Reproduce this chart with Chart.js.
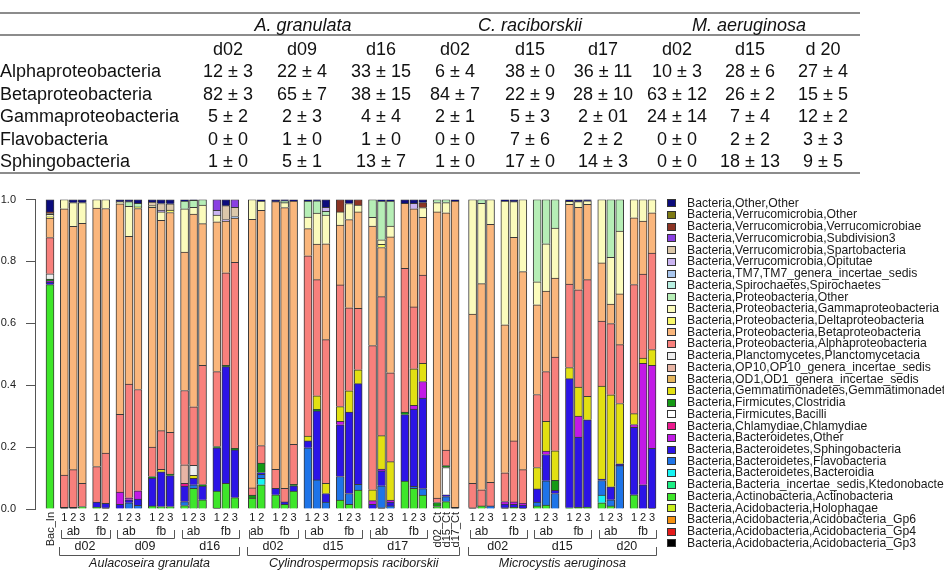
<!DOCTYPE html>
<html>
<head>
<meta charset="utf-8">
<script src="https://cdn.jsdelivr.net/npm/chart.js@4.4.1/dist/chart.umd.min.js"></script>
<style>
  body { margin: 0; background: #fff; }
  #wrap { position: relative; width: 944px; height: 574px; overflow: hidden; font-family: 'Liberation Sans', Arial, sans-serif; }
  #chart { position: absolute; left: 0; top: 0; }
  .t { position: absolute; font-size: 18px; color: #111; white-space: nowrap; line-height: 1; transform: translate(-50%, -50%); }
  .t.left { transform: translate(0, -50%); }
  .t.it { font-style: italic; }
  .rule { position: absolute; left: 0; width: 860px; height: 2px; background: #8c8c8c; }
</style>
</head>
<body>
<div id="wrap">
  <canvas id="chart" width="944" height="574"></canvas>
  <div id="table"></div>
</div>
<script>
/******************** table data ********************/
const tableSpecies = ['A. granulata', 'C. raciborskii', 'M. aeruginosa'];
const tableDays = ['d02', 'd09', 'd16', 'd02', 'd15', 'd17', 'd02', 'd15', 'd 20'];
const tableTaxa = ['Alphaproteobacteria', 'Betaproteobacteria', 'Gammaproteobacteria', 'Flavobacteria', 'Sphingobacteria'];
const tableAlpha = ['12 ± 3', '22 ± 4', '33 ± 15', '6 ± 4', '38 ± 0', '36 ± 11', '10 ± 3', '28 ± 6', '27 ± 4'];
const tableBeta = ['82 ± 3', '65 ± 7', '38 ± 15', '84 ± 7', '22 ± 9', '28 ± 10', '63 ± 12', '26 ± 2', '15 ± 5'];
const tableGamma = ['5 ± 2', '2 ± 3', '4 ± 4', '2 ± 1', '5 ± 3', '2 ± 01', '24 ± 14', '7 ± 4', '12 ± 2'];
const tableFlavo = ['0 ± 0', '1 ± 0', '1 ± 0', '0 ± 0', '7 ± 6', '2 ± 2', '0 ± 0', '2 ± 2', '3 ± 3'];
const tableSphingo = ['1 ± 0', '5 ± 1', '13 ± 7', '1 ± 0', '17 ± 0', '14 ± 3', '0 ± 0', '18 ± 13', '9 ± 5'];

/******************** bar chart data ********************/
// one label per bar, left to right
const barLabels = [
  'Bac_In',
  '1','2','3', '1','2',
  '1','2','3', '1','2','3',
  '1','2','3', '1','2','3',
  '1','2', '1','2','3',
  '1','2','3', '1','2','3',
  '1','2','3', '1','2','3',
  'd02_Ct','d15_Ct','d17_Ct',
  '1','2','3', '1','2','3',
  '1','2','3', '1','2','3',
  '1','2','3', '1','2','3'
];
const speciesNames = ['Aulacoseira granulata', 'Cylindrospermopsis raciborskii', 'Microcystis aeruginosa'];
const dateNames = ['d02', 'd09', 'd16', 'd02', 'd15', 'd17', 'd02', 'd15', 'd20'];
// bar subgroups (run of bars between gaps)
const subgroupSize    = [1, 3,2,3,3,3,3, 2,3,3,3,3,3,3, 3,3,3,3,3,3];
const subgroupSpecies = [-1, 0,0,0,0,0,0, 1,1,1,1,1,1,1, 2,2,2,2,2,2];
const subgroupDate    = [-1, 0,0,1,1,2,2, 3,3,4,4,5,5,-1, 6,6,7,7,8,8];
const subgroupFilter  = ['', 'ab','fb','ab','fb','ab','fb', 'ab','fb','ab','fb','ab','fb','', 'ab','fb','ab','fb','ab','fb'];

// series, stacked bottom to top
const gp3 = [0, .005,.005,0,0,.004, 0,0,0,0,0,0, 0,0,0,.003,0,0, 0,0,0,0,0, 0,0,0,0,0,0, 0,.004,0,0,0,0, 0,0,.005, .004,0,0,.004,0,.003, 0,0,0,0,0,0, 0,0,0,0,0,.003];
const gp4 = [0, 0,0,0,0,0, 0,0,0,0,0,0, 0,0,0,0,0,0, 0,0,0,0,0, 0,0,0,0,0,0, 0,0,0,0,0,0, 0,0,0, 0,0,0,0,0,0, 0,0,0,0,0,0, 0,0,0,0,0,0];
const gp6 = [0, 0,0,0,0,0, 0,0,0,0,0,0, 0,0,0,0,0,0, 0,0,0,0,0, 0,0,0,0,0,0, 0,0,0,0,0,0, 0,0,0, 0,0,0,0,0,0, 0,0,0,0,0,0, 0,0,0,0,0,0];
const holophagae = [0, 0,0,0,0,0, 0,0,0,0,0,0, 0,0,0,0,0,0, 0,0,0,0,0, 0,0,0,0,0,0, 0,0,0,0,0,0, 0,0,0, 0,0,0,0,0,0, 0,0,0,0,0,0, 0,0,0,0,0,0];
const actino = [
  .725,
  0,0,.008, .006,0,
  0,0,0, .01,.008,.008,
  .011,.067,.03, .055,.083,.037,
  .035,.078, .046,.015,.058,
  0,0,0, .029,.015,.061,
  0,0,0, .09,.067,.045,
  .008,.024,0,
  0,.01,0, 0,.005,0,
  .01,.013,0, .004,.005,.006,
  .02,.01,0, .046,0,0
];
const ktedono = [0, 0,0,0,0,0, 0,0,0,0,0,0, 0,0,0,0,0,0, 0,0,0,0,0, 0,0,0,0,0,0, 0,0,0,0,0,0, 0,0,0, 0,0,0,0,0,0, 0,0,0,0,0,0, 0,0,0,0,0,0];
const bacteroidia = [0, 0,0,0,0,0, 0,0,0,0,0,0, 0,0,0,0,0,0, 0,.021,0,0,0, 0,0,0,0,0,0, 0,0,0,0,0,0, 0,0,0, 0,0,0,0,0,0, 0,0,0,0,0,0, .025,0,0,0,0,0];
const flavo = [
  0,
  0,0,0, 0,0,
  0,.02,.012, 0,0,0,
  .013,.011,0, 0,0,0,
  0,.013, 0,0,0,
  .198,.094,.022, .076,.035,.019,
  0,.071,.01, 0,.006,.021,
  0,.016,0,
  0,0,.01, 0,0,0,
  .012,.078,.05, 0,0,0,
  .047,.02,.14, 0,0,0
];
const sphingo = [
  .008,
  0,0,0, .016,.014,
  .015,.01,.02, .09,.112,.1,
  .05,.021,.044, .14,.377,.154,
  0,.006, .021,.008,.017,
  .022,.223,.028, .167,.263,.325,
  .015,.048,.012, .215,.25,.292,
  0,.006,0,
  0,0,0, .012,.01,.01,
  .043,.085,.01, .417,.227,.282,
  .005,.042,.006, .218,.078,.193
];
const bactOther = [
  .004,
  0,0,0, 0,0,
  .04,.006,.027, 0,0,0,
  0,0,0, 0,0,0,
  0,0, 0,0,0,
  0,0,0, .011,0,0,
  .012,.006,.007, 0,.012,.054,
  0,0,0,
  0,0,0, .008,.008,.005,
  0,.011,0, 0,.068,0,
  0,0,0, .009,.393,.268
];
const chlamydiae = [0, 0,0,0,0,0, 0,0,0,0,0,0, .009,0,0,0,0,0, 0,0,0,0,0, 0,0,0,0,0,0, 0,0,0,0,0,0, 0,0,0, 0,0,0,0,0,0, 0,0,0,0,0,0, 0,0,0,0,0,0];
const bacilli = [0, 0,0,0,0,0, 0,0,0,0,0,0, 0,0,0,0,0,0, 0,0,0,0,0, 0,0,0,0,0,0, 0,0,0,0,0,0, 0,.088,0, 0,0,0,0,0,0, 0,0,0,0,0,0, 0,0,0,0,0,0];
const clostridia = [
  .006,
  0,0,0, 0,0,
  0,0,0, .005,0,.005,
  0,0,.005, .004,.004,.005,
  .01,.03, 0,0,.005,
  0,.005,0, 0,0,0,
  0,0,0, .008,0,0,
  .013,.006,0,
  0,0,0, 0,0,0,
  0,0,.033, 0,0,0,
  0,0,0, 0,0,0
];
const gemm = [
  0,
  0,0,0, 0,0,
  0,0,0, 0,.008,0,
  0,.01,0, 0,0,0,
  0,0, 0,0,0,
  .016,.044,.033, .048,.069,.045,
  .035,.108,.124, 0,.118,.059,
  0,0,0,
  0,0,0, 0,0,0,
  .069,.096,.095, .036,.094,.076,
  .3,.297,.195, .035,.017,.051
];
const od1 = [0, 0,0,0,0,0, 0,0,0,0,0,0, 0,0,0,0,0,0, 0,0,0,0,0, 0,0,0,0,0,0, 0,0,0,0,0,0, 0,0,0, 0,0,0,0,0,0, 0,0,0,0,0,0, 0,0,0,0,0,0];
const op10 = [0, 0,0,0,0,0, 0,0,0,0,0,0, .06,0,0,0,0,0, 0,0,0,0,0, 0,0,0,0,0,0, 0,0,0,0,0,0, 0,0,0, 0,0,0,0,0,0, 0,0,0,0,0,0, 0,0,0,0,0,0];
const planct = [.017, 0,0,0,0,0, 0,0,0,0,0,0, 0,.032,0,0,0,0, 0,0,0,0,0, 0,0,0,0,0,0, 0,0,0,0,0,0, 0,0,0, 0,0,0,0,0,0, 0,0,0,0,0,0, 0,0,0,0,0,0];
const alpha = [
  .117,
  .105,.122,.075, .115,.163,
  .251,.368,.327, .095,.125,.135,
  .24,.189,.385, .242,.299,.601,
  .023,.057, .061,.044,.129,
  .582,.375,.464, .393,.268,.198,
  .466,.449,.287, .465,.2,.285,
  .014,.05,0,
  .079,.052,.076, .093,.197,.109,
  .236,.161,.303, .27,.314,.377,
  .21,.23,.19, .417,.271,.312
];
const beta = [
  .063,
  .86,.786,.84, .835,.79,
  .68,.477,.585, .775,.68,.71,
  .447,.623,.458, .484,.167,.143,
  .868,.76, .865,.907,.786,
  .088,.115,.31, .193,.285,.312,
  .386,.159,.439, .21,.317,.186,
  .925,.767,.99,
  .547,.666,.834, .478,.658,.64,
  .29,.26,.255, .257,.267,.243,
  .188,.063,.164, .216,.171,.13
];
const delta = [.004, 0,0,0,0,0, 0,0,.005,0,0,.008, 0,0,0,0,0,0, 0,0,0,0,0, 0,0,0,0,0,0, 0,.01,0,0,0,0, 0,0,0, 0,0,0,0,0,0, 0,0,0,0,0,0, 0,0,0,0,0,0];
const gamma = [
  .008,
  .03,.077,.067, .028,.029,
  .007,.097,0, .005,.027,0,
  .14,.022,.06, .022,0,0,
  .064,.03, 0,.016,0,
  .037,.1,.093, .043,.052,.022,
  .028,.015,.035, 0,0,.032,
  .03,.033,0,
  .37,.26,.08, .4,.115,.233,
  .074,.153,.162, .01,.018,.012,
  .205,.151,.203, .059,.07,.043
];
const proteoOther = [
  0,
  0,0,0, 0,0,
  0,.015,.012, 0,0,0,
  .025,.022,.018, 0,0,0,
  0,0, 0,.006,0,
  .052,.04,.012, 0,0,0,
  .058,.125,.081, 0,0,0,
  .01,.01,0,
  0,.012,0, 0,0,0,
  .266,.143,.092, 0,0,0,
  0,.187,.102, 0,0,0
];
const spiro = [0, 0,0,0,0,0, 0,0,0,0,0,0, 0,0,0,0,0,0, 0,0,0,0,0, 0,0,0,0,0,0, 0,0,0,0,0,0, 0,0,0, 0,0,0,0,0,0, 0,0,0,0,0,0, 0,0,0,0,0,0];
const tm7 = [0, 0,0,0,0,0, 0,0,0,0,0,0, 0,0,0,0,0,.005, 0,0,0,0,0, 0,0,0,0,0,0, 0,0,0,0,0,0, 0,0,0, 0,0,0,0,0,0, 0,0,0,0,0,0, 0,0,0,0,0,0];
const opitutae = [0, 0,0,0,0,0, 0,0,0,0,.005,0, 0,0,0,.015,.005,0, 0,0,0,0,0, 0,0,.013,0,0,0, 0,0,0,0,.018,0, 0,0,0, 0,0,0,0,0,0, 0,0,0,0,0,0, 0,0,0,0,0,0];
const sparto = [.004, 0,0,0,0,0, 0,0,0,.012,.022,.02, 0,0,0,0,.045,.03, 0,0,0,0,0, 0,0,0,0,0,0, 0,0,0,0,0,0, 0,0,0, 0,0,0,0,0,0, 0,0,0,0,0,0, 0,0,0,0,0,0];
const subdiv3 = [0, 0,0,0,0,0, 0,0,0,0,0,0, 0,0,0,.035,0,.025, 0,0,0,0,0, 0,0,0,0,0,0, 0,0,0,0,0,0, 0,0,0, 0,0,0,0,0,0, 0,0,0,0,0,0, 0,0,0,0,0,0];
const verrucomicrobiae = [.004, 0,0,0,0,0, 0,0,0,0,0,0, 0,0,0,0,0,0, 0,0,0,0,0, 0,0,0,.04,0,.018, 0,0,0,0,0,.016, 0,0,0, 0,0,0,0,0,0, 0,0,0,0,0,0, 0,0,0,0,0,0];
const verrOther = [0, 0,0,0,0,0, 0,0,0,0,0,0, 0,0,0,0,0,0, 0,0,0,0,0, 0,0,0,0,0,0, 0,0,0,0,0,0, 0,0,0, 0,0,0,0,0,0, 0,0,0,0,0,0, 0,0,0,0,0,0];
const otherOther = [
  .04,
  0,.01,.01, 0,0,
  .007,.007,.012, .008,.013,.014,
  .005,.003,0, 0,.02,0,
  0,.005, .007,.004,.005,
  .005,.004,.025, 0,.013,0,
  0,.005,.005, .012,.012,.01,
  0,0,.005,
  0,0,0, .005,.007,0,
  0,0,0, .006,.007,.004,
  0,0,0, 0,0,0
];

const taxa = [
  'Bacteria,Acidobacteria,Acidobacteria_Gp3',
  'Bacteria,Acidobacteria,Acidobacteria_Gp4',
  'Bacteria,Acidobacteria,Acidobacteria_Gp6',
  'Bacteria,Acidobacteria,Holophagae',
  'Bacteria,Actinobacteria,Actinobacteria',
  'Bacteria,Bacteria_incertae_sedis,Ktedonobacteria',
  'Bacteria,Bacteroidetes,Bacteroidia',
  'Bacteria,Bacteroidetes,Flavobacteria',
  'Bacteria,Bacteroidetes,Sphingobacteria',
  'Bacteria,Bacteroidetes,Other',
  'Bacteria,Chlamydiae,Chlamydiae',
  'Bacteria,Firmicutes,Bacilli',
  'Bacteria,Firmicutes,Clostridia',
  'Bacteria,Gemmatimonadetes,Gemmatimonadetes',
  'Bacteria,OD1,OD1_genera_incertae_sedis',
  'Bacteria,OP10,OP10_genera_incertae_sedis',
  'Bacteria,Planctomycetes,Planctomycetacia',
  'Bacteria,Proteobacteria,Alphaproteobacteria',
  'Bacteria,Proteobacteria,Betaproteobacteria',
  'Bacteria,Proteobacteria,Deltaproteobacteria',
  'Bacteria,Proteobacteria,Gammaproteobacteria',
  'Bacteria,Proteobacteria,Other',
  'Bacteria,Spirochaetes,Spirochaetes',
  'Bacteria,TM7,TM7_genera_incertae_sedis',
  'Bacteria,Verrucomicrobia,Opitutae',
  'Bacteria,Verrucomicrobia,Spartobacteria',
  'Bacteria,Verrucomicrobia,Subdivision3',
  'Bacteria,Verrucomicrobia,Verrucomicrobiae',
  'Bacteria,Verrucomicrobia,Other',
  'Bacteria,Other,Other'
];
const series = [gp3, gp4, gp6, holophagae, actino, ktedono, bacteroidia, flavo, sphingo, bactOther,
  chlamydiae, bacilli, clostridia, gemm, od1, op10, planct, alpha, beta, delta,
  gamma, proteoOther, spiro, tm7, opitutae, sparto, subdiv3, verrucomicrobiae, verrOther, otherOther];
const colors = ['#000000', '#e41a1a', '#f5900f', '#c8ee1c', '#3ee62a', '#1cee84', '#16f4f4', '#1e74e8', '#2c14e6', '#c21ae6',
  '#ec1a8e', '#ffffff', '#159a15', '#e2e012', '#e6b65e', '#e8b4a4', '#eeeeee', '#f8807c', '#fab67c', '#f8f86a',
  '#fbfbbc', '#b6eeb6', '#b8f0e2', '#a9c6ee', '#cab4f2', '#dcc8aa', '#8a40e2', '#8c3424', '#7e7a14', '#0c0c7c'];

series.forEach((s, k) => { if (s.length !== barLabels.length) throw new Error(taxa[k] + ' has ' + s.length + ' values'); });

/******************** table ********************/
const table = document.getElementById('table');
const colX = [228, 302, 381, 455, 530, 603, 677, 750, 823];
const speciesX = [303, 530, 749];
const rowY = [71, 94, 116, 139, 161];
function addText(txt, x, y, cls) {
  const d = document.createElement('div');
  d.className = 't ' + (cls || '');
  d.style.left = x + 'px';
  d.style.top = y + 'px';
  d.textContent = txt;
  table.appendChild(d);
}
[12, 34, 172].forEach(y => {
  const r = document.createElement('div');
  r.className = 'rule';
  r.style.top = y + 'px';
  table.appendChild(r);
});
tableSpecies.forEach((s, i) => addText(s, speciesX[i], 25, 'it'));
tableDays.forEach((d, i) => addText(d, colX[i], 49));
const tableRows = [tableAlpha, tableBeta, tableGamma, tableFlavo, tableSphingo];
tableTaxa.forEach((t, r) => {
  addText(t, 0, rowY[r], 'left');
  tableRows[r].forEach((v, c) => addText(v, colX[c], rowY[r]));
});

/******************** bar positions ********************/
const xpos = [];
let pos = 0;
subgroupSize.forEach((n, g) => {
  if (g > 0) {
    const a = subgroupSpecies[g - 1], b = subgroupSpecies[g];
    pos += (a >= 0 && b >= 0 && a !== b) ? 1.95 : 1.6;
  }
  for (let j = 0; j < n; j++) {
    if (j > 0) pos += 1;
    xpos.push(pos);
  }
});
const barSubgroup = [];
subgroupSize.forEach((n, g) => { for (let j = 0; j < n; j++) barSubgroup.push(g); });

/******************** plugins ********************/
const FONT = '"Liberation Sans", Arial, sans-serif';
const bottomLabels = {
  id: 'bottomLabels',
  afterDraw(chart) {
    const ctx = chart.ctx;
    const xs = chart.scales.x;
    const px = xpos.map(v => xs.getPixelForValue(v));
    ctx.save();
    ctx.fillStyle = '#1a1a1a';
    ctx.strokeStyle = '#555';
    ctx.lineWidth = 1;

    // bar labels
    ctx.font = '11px ' + FONT;
    barLabels.forEach((lab, i) => {
      if (lab.length > 1) {
        ctx.save();
        ctx.translate(px[i] + 1, 512);
        ctx.rotate(-Math.PI / 2);
        ctx.textAlign = 'right';
        ctx.textBaseline = 'middle';
        ctx.fillText(lab, 0, 0);
        ctx.restore();
      } else {
        ctx.textAlign = 'center';
        ctx.textBaseline = 'middle';
        ctx.fillText(lab, px[i], 518);
      }
    });

    // ab / fb brackets
    ctx.font = '12px ' + FONT;
    const barsOf = g => px.filter((p, i) => barSubgroup[i] === g);
    subgroupFilter.forEach((f, g) => {
      if (f !== 'ab') return;
      const ab = barsOf(g), fb = barsOf(g + 1);
      const x0 = Math.round(ab[0] - 3) + 0.5, x1 = Math.round(fb[fb.length - 1] + 4) + 0.5;
      ctx.beginPath();
      ctx.moveTo(x0, 530); ctx.lineTo(x0, 538.5); ctx.lineTo(x1, 538.5); ctx.lineTo(x1, 530);
      ctx.stroke();
      ctx.textAlign = 'center';
      ctx.textBaseline = 'middle';
      ctx.fillText('ab', ab.reduce((a, b) => a + b, 0) / ab.length, 532);
      ctx.fillText('fb', fb.reduce((a, b) => a + b, 0) / fb.length, 532);
    });

    // dates
    ctx.font = '12.5px ' + FONT;
    dateNames.forEach((d, k) => {
      const ps = px.filter((p, i) => subgroupDate[barSubgroup[i]] === k);
      ctx.fillText(d, (ps[0] + ps[ps.length - 1]) / 2, 547);
    });

    // species brackets
    speciesNames.forEach((s, k) => {
      const ps = px.filter((p, i) => subgroupSpecies[barSubgroup[i]] === k);
      const x0 = Math.round(ps[0] - 5) + 0.5, x1 = Math.round(ps[ps.length - 1] + 4) + 0.5;
      ctx.beginPath();
      ctx.moveTo(x0, 547); ctx.lineTo(x0, 555.5); ctx.lineTo(x1, 555.5); ctx.lineTo(x1, 547);
      ctx.stroke();
      ctx.font = 'italic 12.5px ' + FONT;
      ctx.fillText(s, (ps[0] + ps[ps.length - 1]) / 2, 564);
    });

    // legend, top entry is the top of the stack
    ctx.font = '12.2px ' + FONT;
    ctx.textAlign = 'left';
    ctx.textBaseline = 'middle';
    const ds = chart.data.datasets;
    for (let i = 0; i < ds.length; i++) {
      const d = ds[ds.length - 1 - i];
      const y = 203.3 + i * 11.73;
      ctx.fillStyle = d.backgroundColor;
      ctx.fillRect(667, Math.round(y - 4), 9, 8);
      ctx.strokeStyle = '#333';
      ctx.strokeRect(667.5, Math.round(y - 4) + 0.5, 8, 7);
      ctx.fillStyle = '#1a1a1a';
      ctx.fillText(d.label, 687, y);
    }
    ctx.restore();
  }
};

/******************** chart ********************/
const ctx = document.getElementById('chart').getContext('2d');
new Chart(ctx, {
  type: 'bar',
  data: {
    datasets: taxa.map((t, k) => ({
      label: t,
      data: series[k].map((v, i) => ({ x: xpos[i], y: v > 0 ? v : null })),
      backgroundColor: colors[k],
      borderColor: '#3a3a3a',
      borderWidth: 1,
      barThickness: 8
    }))
  },
  options: {
    responsive: false,
    animation: false,
    devicePixelRatio: 1,
    layout: { padding: { top: 199.5, bottom: 65, left: 0, right: 282 } },
    plugins: { legend: { display: false }, tooltip: { enabled: false } },
    scales: {
      x: {
        type: 'linear',
        display: false,
        offset: false,
        stacked: true,
        min: -1.671,
        max: 68.214
      },
      y: {
        stacked: true,
        min: 0,
        max: 1,
        afterFit: (scale) => { scale.width = 35; },
        ticks: {
          stepSize: 0.2,
          padding: 10,
          color: '#222',
          font: { size: 11, family: FONT },
          callback: (v) => v.toFixed(1)
        },
        grid: { drawOnChartArea: false, drawTicks: true, tickLength: 9, color: '#555' },
        border: { display: true, color: '#555' }
      }
    }
  },
  plugins: [bottomLabels]
});
</script>
</body>
</html>
